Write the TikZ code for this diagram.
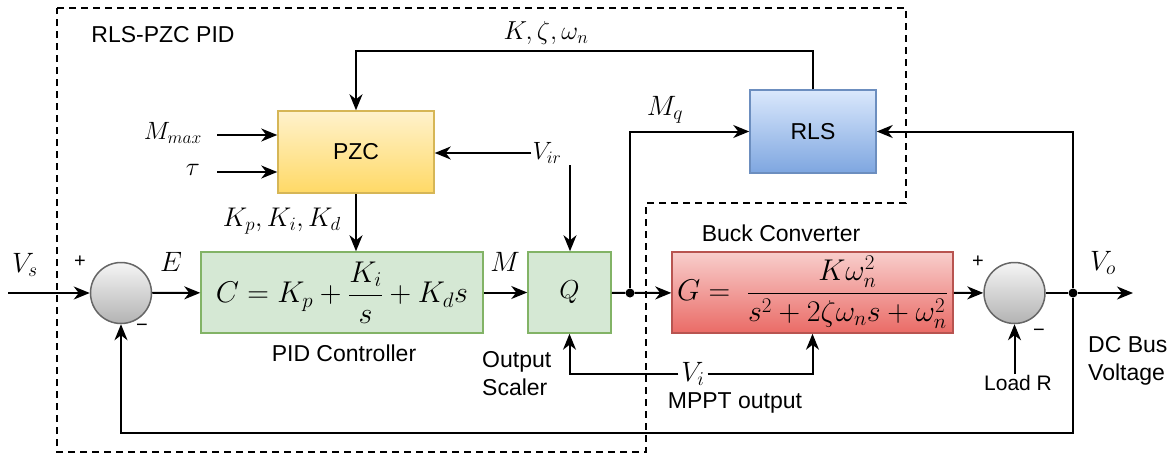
\RequirePackage{fix-cm}
\documentclass[tikz,border=0pt]{standalone}
\usepackage[no-math]{fontspec}
\setmainfont{Liberation Sans}
\usetikzlibrary{arrows.meta}
\definecolor{pzcT}{HTML}{FFF2CC}
\definecolor{pzcB}{HTML}{FFD966}
\definecolor{pzcL}{HTML}{D6B656}
\definecolor{rlsT}{HTML}{DAE8FC}
\definecolor{rlsB}{HTML}{7EA6E0}
\definecolor{rlsL}{HTML}{6C8EBF}
\definecolor{grnF}{HTML}{D5E8D4}
\definecolor{grnL}{HTML}{82B366}
\definecolor{redT}{HTML}{F8CECC}
\definecolor{redB}{HTML}{EA6B66}
\definecolor{redL}{HTML}{B85450}
\definecolor{gryT}{HTML}{F5F5F5}
\definecolor{gryB}{HTML}{B3B3B3}
\definecolor{gryL}{HTML}{666666}
\tikzset{
  lbl/.style={font=\fontsize{23}{28}\selectfont, inner sep=1pt},
  mlbl/.style={font=\fontsize{28}{33}\selectfont, inner sep=1pt},
  sgn/.style={font=\fontsize{20}{24}\selectfont, inner sep=0pt},
  conn/.style={line width=2pt, -{Stealth[length=16pt,width=13pt,inset=5pt]}},
  wire/.style={line width=2pt},
  blockbox/.style={draw, line width=1.5pt, font=\fontsize{23}{28}\selectfont, inner sep=0pt},
  fml/.style={font=\fontsize{30}{36}\selectfont},
  pzcbox/.style={blockbox, draw=pzcL, top color=pzcT, bottom color=pzcB},
  rlsbox/.style={blockbox, draw=rlsL, top color=rlsT, bottom color=rlsB},
  grnbox/.style={blockbox, draw=grnL, fill=grnF},
  redbox/.style={blockbox, draw=redL, top color=redT, bottom color=redB},
  sumc/.style={circle, draw=gryL, line width=1.5pt, top color=gryT, bottom color=gryB, minimum size=61pt, inner sep=0pt},
  dotn/.style={circle, fill=black, minimum size=9pt, inner sep=0pt},
  bound/.style={line width=2pt, dash pattern=on 7pt off 5pt}
}
\begin{document}
\begin{tikzpicture}[x=1pt,y=-1pt]
\useasboundingbox (0,0) rectangle (1176,455);
% dashed boundary
\draw[bound] (57,8) -- (906,8) -- (906,203) -- (646,203) -- (646,452) -- (57,452) -- cycle;
% blocks
\node[pzcbox, minimum width=156pt, minimum height=82pt] (pzc) at (356,152) {PZC};
\node[rlsbox, minimum width=126pt, minimum height=83pt] (rls) at (813,131.5) {RLS};
\node[sumc] (s1) at (121,293) {};
\node[grnbox, fml, minimum width=282pt, minimum height=81pt] (pid) at (342,292.5) {$\displaystyle C=K_p+\frac{K_i}{s}+K_d s$};
\node[grnbox, font=\fontsize{26}{30}\selectfont, minimum width=83pt, minimum height=81pt] (q) at (569.5,292.5) {$Q$};
\node[redbox, fml, minimum width=281pt, minimum height=81pt] (buck) at (812.5,292.5) {$\displaystyle G=\;\frac{K\omega_n^2}{s^2+2\zeta\omega_n s+\omega_n^2}$};
\node[sumc] (s2) at (1014.5,293) {};
\node[dotn] (d1) at (630,293) {};
\node[dotn] (d2) at (1073,293) {};
% text labels
\node[lbl] (title) at (163,35) {RLS-PZC PID};
\node[lbl] (bucklbl) at (781,233) {Buck Converter};
\node[lbl] (pidlbl) at (344,353) {PID Controller};
\node[lbl, anchor=west, align=left] (oslbl) at (481,374) {Output\\Scaler};
\node[lbl] (mppt) at (735,403) {MPPT output};
\node[lbl, anchor=west, align=left] (dcbus) at (1087,361) {DC Bus\\Voltage};
\node[lbl, font=\fontsize{21}{25}\selectfont] (loadr) at (1018,383) {Load R};
\node[sgn] (p1) at (80,262) {+};
\node[sgn] (m1) at (142,328) {−};
\node[sgn] (p2) at (978,262) {+};
\node[sgn] (m2) at (1039,333) {−};
% math labels
\node[mlbl] (vs) at (25,265) {$V_s$};
\node[mlbl] (e) at (171,262) {$E$};
\node[mlbl, font=\fontsize{27}{32}\selectfont, anchor=east] (kpid) at (342,221) {$K_p,K_i,K_d$};
\node[mlbl] (m) at (505,262) {$M$};
\node[mlbl] (mq) at (665,110) {$M_q$};
\node[mlbl, font=\fontsize{25}{30}\selectfont] (vir) at (547,153) {$V_{ir}$};
\node[mlbl, font=\fontsize{26}{31}\selectfont] (kzw) at (546,33) {$K,\zeta,\omega_n$};
\node[mlbl, fill=white, inner sep=3pt] (vi) at (693,374) {$V_i$};
\node[mlbl] (vo) at (1103,263) {$V_o$};
\node[mlbl, font=\fontsize{25}{30}\selectfont, anchor=east] (mmax) at (203,133) {$M_{max}$};
\node[mlbl, font=\fontsize{26}{31}\selectfont, anchor=east] (tau) at (201,170) {$\tau$};
% coordinates
\coordinate (vsin) at (8,293);
\coordinate (vout) at (1133,293);
\coordinate (mmaxs) at (217,135);
\coordinate (taus) at (217,172);
\coordinate (virb) at (570,165);
\coordinate (topy) at (0,51);
\coordinate (fby) at (0,433);
% connectors
\draw[conn] (vsin) -- (s1);
\draw[conn] (s1) -- (pid);
\draw[conn] (pzc.south) -- (pzc.south |- pid.north);
\draw[conn] (pid) -- (q);
\draw[wire] (q) -- (d1);
\draw[conn] (d1) -- (buck);
\draw[conn] (d1) |- (rls.west);
\draw[conn] (buck) -- (s2);
\draw[wire] (s2) -- (d2);
\draw[conn] (d2) -- (vout);
\draw[conn] (d2) |- (rls.east);
\draw[conn] (d2) -- (d2 |- fby) -| (s1.south);
\draw[conn] (rls.north) -- (rls.north |- topy) -| (pzc.north);
\draw[conn] (mmaxs) -- (mmaxs -| pzc.west);
\draw[conn] (taus) -- (taus -| pzc.west);
\draw[conn] (vir.west) -- (vir.west -| pzc.east);
\draw[conn] (virb) -- (virb |- q.north);
\draw[conn] (vi.west) -| (q.south);
\draw[conn] (vi.east) -| (buck.south);
\draw[conn] (s2.south |- loadr.north) -- (s2.south);
\end{tikzpicture}
\end{document}
